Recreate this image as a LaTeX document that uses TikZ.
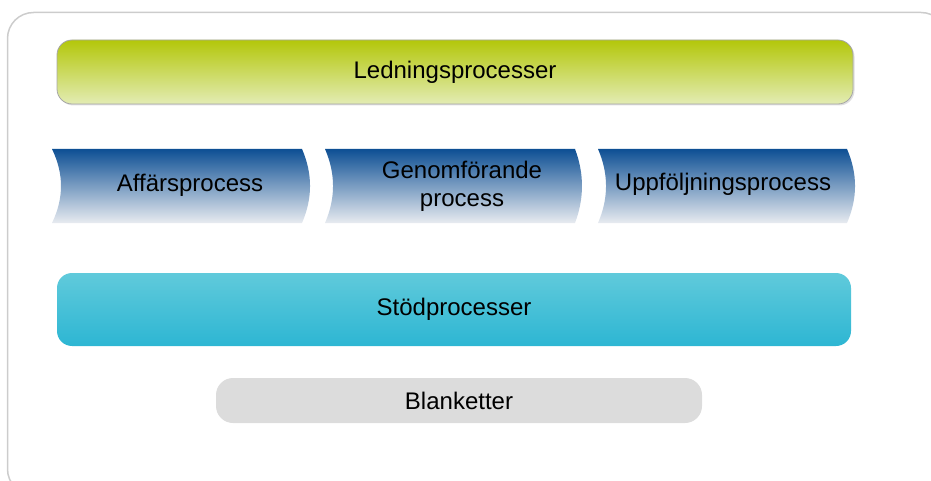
\documentclass[tikz,border=0pt]{standalone}
\usepackage{fontspec}
\setmainfont{Liberation Sans}
\usetikzlibrary{shadows}
\definecolor{frameC}{HTML}{CCCCCC}
\definecolor{greenTop}{HTML}{B3C70A}
\definecolor{greenBot}{HTML}{E3ECB4}
\definecolor{blueTop}{HTML}{0D4F94}
\definecolor{blueBot}{HTML}{E8EBF0}
\definecolor{cyanTop}{HTML}{60CADB}
\definecolor{cyanBot}{HTML}{2DB6D3}
\definecolor{greyFill}{HTML}{DCDCDC}
\tikzset{
  lbl/.style={font=\fontsize{24pt}{28pt}\selectfont, text=black, align=center, inner sep=0pt},
  bar/.style={rounded corners=15pt, inner sep=0pt},
  chev/.style={top color=blueTop, bottom color=blueBot, draw=none}
}
\begin{document}
\begin{tikzpicture}[x=1pt,y=-1pt]
\useasboundingbox (0,0) rectangle (931,481);
\begin{scope}
\clip (0,0) rectangle (931,481);
\draw[frameC, line width=1.5pt, rounded corners=26pt] (7.5,12.5) rectangle (947,495);
\end{scope}
% Ledningsprocesser
\node[bar, minimum width=796pt, minimum height=64pt, top color=greenTop, bottom color=greenBot,
      draw=gray!70, line width=0.8pt,
      drop shadow={shadow xshift=1.5pt, shadow yshift=-1.5pt, opacity=0.25, fill=gray}] (led) at (455,72) {};
\node[lbl] (ledt) at (455,72) {Ledningsprocesser};
% chevrons
\shade[chev] (52,149) -- (302,149) .. controls (312.7,173.7) and (312.7,198.3) .. (302,223)
  -- (52,223) .. controls (64,198.3) and (64,173.7) .. (52,149) -- cycle;
\shade[chev] (325,149) -- (575,149) .. controls (584.3,173.7) and (584.3,198.3) .. (575,223)
  -- (325,223) .. controls (335.7,198.3) and (335.7,173.7) .. (325,149) -- cycle;
\shade[chev] (598,149) -- (847,149) .. controls (857.7,173.7) and (857.7,198.3) .. (847,223)
  -- (598,223) .. controls (608.7,198.3) and (608.7,173.7) .. (598,149) -- cycle;
\node[lbl] (aff) at (190,185) {Affärsprocess};
\node[lbl, text width=220pt] (gen) at (462,186) {Genomförande\\process};
\node[lbl] (upp) at (723,184) {Uppföljningsprocess};
% Stödprocesser
\node[bar, minimum width=794pt, minimum height=73pt, top color=cyanTop, bottom color=cyanBot] (sto) at (454,309.5) {};
\node[lbl] (stot) at (454,309.5) {Stödprocesser};
% Blanketter
\node[bar, rounded corners=17pt, minimum width=486pt, minimum height=45pt, fill=greyFill] (bla) at (459,400.5) {};
\node[lbl] (blat) at (459,400.5) {Blanketter};
\end{tikzpicture}
\end{document}
